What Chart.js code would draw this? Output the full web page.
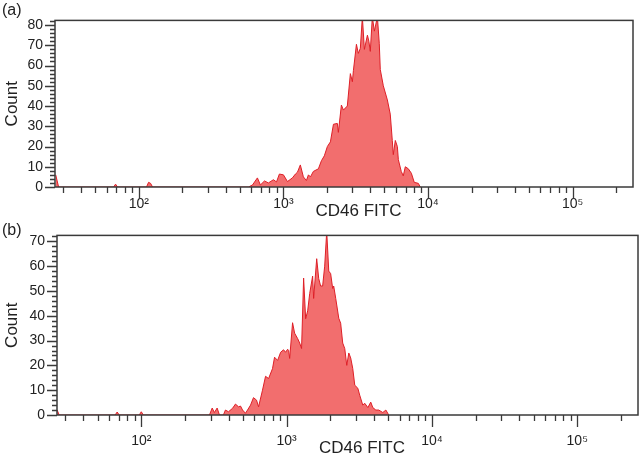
<!DOCTYPE html>
<html>
<head>
<meta charset="utf-8">
<script src="https://cdn.jsdelivr.net/npm/chart.js"></script>
<style>
  html, body { margin: 0; padding: 0; background: #fff; }
  body { width: 640px; height: 455px; position: relative; overflow: hidden; }
  .panel { position: absolute; left: 0; width: 640px; }
  #panelA { top: 0; height: 225px; }
  #panelB { top: 215px; height: 240px; }
</style>
</head>
<body>
<div class="panel" id="panelA"><canvas id="chartA"></canvas></div>
<div class="panel" id="panelB"><canvas id="chartB"></canvas></div>
<script>
// CD46 FITC histograms, x values are log10 of the fluorescence
// (a)
const logFitcA = [
  1.425, 1.435, 1.445,
  1.825, 1.839, 1.853,
  2.053, 2.067, 2.081, 2.095,
  2.758, 2.786, 2.820, 2.841, 2.869, 2.896, 2.931, 2.952, 2.972, 3.000,
  3.028, 3.062, 3.083, 3.097, 3.117, 3.138, 3.159, 3.173, 3.187, 3.207,
  3.242, 3.263, 3.283, 3.304, 3.325, 3.346, 3.373, 3.380, 3.401, 3.415,
  3.442, 3.463, 3.477, 3.484, 3.505, 3.518, 3.532, 3.546, 3.560, 3.581,
  3.591, 3.601, 3.615, 3.629, 3.650, 3.663, 3.670, 3.691, 3.719, 3.739,
  3.753, 3.760, 3.774, 3.788, 3.795, 3.815, 3.829, 3.843, 3.864, 3.885,
  3.905, 3.933, 3.947
];
const countA = [
  6, 3, 0,
  0, 1.4, 0,
  0, 2.3, 1.8, 0,
  0, 1, 4.5, 1, 3, 2, 3.6, 2.5, 6.4, 6,
  2.7, 4.5, 6.4, 7.3, 10.9, 5, 3.2, 6, 5, 7.7,
  9, 13, 15.4, 20, 22.3, 31, 31.4, 27, 40.5, 38,
  40, 56, 52, 57.5, 70.5, 66, 68.5, 84, 68, 75,
  72, 67, 84, 77, 84, 71, 58, 50, 43, 36,
  23, 16, 23, 20, 13.5, 7.7, 5.5, 10, 9, 6.8,
  2.3, 1.8, 0
];

// (b)
const logFitcB = [
  1.421, 1.435,
  1.820, 1.834, 1.848,
  1.986, 2.000, 2.014,
  2.469, 2.488, 2.503, 2.522, 2.538, 2.565, 2.579, 2.600, 2.628, 2.648,
  2.669, 2.683, 2.697, 2.717, 2.731, 2.752, 2.772, 2.793, 2.807, 2.834,
  2.855, 2.876, 2.903, 2.917, 2.938, 2.959, 2.979, 2.993, 3.007, 3.014,
  3.021, 3.041, 3.055, 3.076, 3.090, 3.103, 3.117, 3.131, 3.145, 3.159,
  3.179, 3.186, 3.207, 3.221, 3.234, 3.248, 3.262, 3.276, 3.290, 3.303,
  3.317, 3.324, 3.338, 3.359, 3.372, 3.386, 3.400, 3.414, 3.428, 3.441,
  3.455, 3.469, 3.490, 3.503, 3.524, 3.538, 3.559, 3.579, 3.593, 3.614,
  3.634, 3.662, 3.683, 3.703
];
const countB = [
  2, 0,
  0, 1.2, 0,
  0, 1.3, 0,
  0, 2.8, 1, 2.8, 0, 0, 2, 1.3, 2.7, 4.4,
  3.3, 3.6, 2, 0.7, 2, 4, 7, 6, 3.3, 10,
  15.6, 14.7, 18.7, 23.3, 22, 25.3, 26.3, 25.3, 26.5, 26,
  22.8, 37.2, 33, 30.8, 29, 26.8, 55.2, 38.8, 42, 49,
  56, 47, 63, 55, 52, 52, 60, 74, 58, 57,
  51, 52, 47, 39, 37, 29, 26.8, 20, 25, 23,
  18.8, 12, 10.8, 8, 4, 4.7, 3, 5.2, 3, 2,
  2, 1, 2, 0
];

// axis ticks
const decades = [2, 3, 4, 5];
const decadeLabels = ['10²', '10³', '10⁴', '10⁵'];
const countTicksA = [0, 10, 20, 30, 40, 50, 60, 70, 80];
const countTicksB = [0, 10, 20, 30, 40, 50, 60, 70];

const xTitle = 'CD46 FITC';
const yTitle = 'Count';

const fillColor = 'rgb(242, 110, 110)';
const lineColor = 'rgb(222, 32, 40)';
const axisColor = '#3a3a3a';
const textColor = '#222';
const fontFamily = '"Liberation Sans", Arial, sans-serif';

Chart.defaults.font.family = fontFamily;
Chart.defaults.color = textColor;

// frame, log minor ticks, x title and panel tag
const decorPlugin = {
  id: 'decor',
  afterDraw(chart, args, opts) {
    const ctx = chart.ctx;
    const area = chart.chartArea;
    const xs = chart.scales.x;
    const ys = chart.scales.y;
    ctx.save();
    ctx.strokeStyle = axisColor;
    ctx.lineWidth = 1.5;
    ctx.strokeRect(area.left, area.top, area.right - area.left, area.bottom - area.top);

    ctx.lineWidth = 1.3;
    ctx.beginPath();
    for (let v = 0; v <= ys.max; v += 2) {
      const py = Math.round(ys.getPixelForValue(v)) + 0.5;
      const len = v % 10 === 0 ? 10 : 5;
      ctx.moveTo(area.left - len, py);
      ctx.lineTo(area.left, py);
    }
    for (let d = 1; d <= 5; d++) {
      for (let m = 1; m <= 9; m++) {
        const v = Math.log10(m * Math.pow(10, d));
        if (v < xs.min || v > xs.max) continue;
        const px = Math.round(xs.getPixelForValue(v)) + 0.5;
        const len = m === 1 ? 12 : 6;
        ctx.moveTo(px, area.bottom);
        ctx.lineTo(px, area.bottom + len);
      }
    }
    ctx.stroke();

    ctx.fillStyle = textColor;
    ctx.font = '17px ' + fontFamily;
    ctx.textAlign = 'center';
    ctx.textBaseline = 'alphabetic';
    ctx.fillText(xTitle, area.left + (area.right - area.left) * 0.525, area.bottom + opts.titleGap);

    ctx.font = '16px ' + fontFamily;
    ctx.textAlign = 'left';
    ctx.fillText(opts.tag, 2, opts.tagY);
    ctx.restore();
  }
};

function makeChart(canvasId, xs, ys, yTicks, yMax, cfg) {
  const points = xs.map((x, i) => ({ x: x, y: ys[i] }));
  return new Chart(document.getElementById(canvasId), {
    type: 'line',
    data: {
      datasets: [{
        data: points,
        borderColor: lineColor,
        backgroundColor: fillColor,
        borderWidth: 1,
        pointRadius: 0,
        tension: 0,
        fill: 'origin'
      }]
    },
    options: {
      responsive: true,
      maintainAspectRatio: false,
      animation: false,
      events: [],
      layout: { padding: { left: 0, top: cfg.top, right: cfg.right, bottom: 0 } },
      plugins: {
        legend: { display: false },
        tooltip: { enabled: false },
        decor: { tag: cfg.tag, tagY: cfg.tagY, titleGap: cfg.titleGap }
      },
      scales: {
        x: {
          type: 'linear',
          min: 1.42,
          max: 5.418,
          grid: { display: false, drawTicks: false },
          border: { display: false },
          afterBuildTicks: (s) => { s.ticks = decades.map(v => ({ value: v })); },
          afterFit: (s) => { s.height = cfg.xHeight; },
          ticks: {
            padding: cfg.xPad,
            font: { size: 14 },
            maxRotation: 0,
            autoSkip: false,
            callback: (v) => decadeLabels[decades.indexOf(v)]
          }
        },
        y: {
          min: 0,
          max: yMax,
          grid: { display: false, drawTicks: false },
          border: { display: false },
          afterBuildTicks: (s) => { s.ticks = yTicks.map(v => ({ value: v })); },
          afterFit: (s) => { s.width = cfg.yWidth; },
          ticks: { padding: 12, font: { size: 14 } },
          title: {
            display: true,
            text: yTitle,
            font: { size: 17 },
            padding: { top: 2, bottom: 0 }
          }
        }
      }
    },
    plugins: [decorPlugin]
  });
}

makeChart('chartA', logFitcA, countA, countTicksA, 82.3,
  { tag: '(a)', tagY: 15, titleGap: 29, top: 6, right: 7, xHeight: 38, yWidth: 55, xPad: 9 });
makeChart('chartB', logFitcB, countB, countTicksB, 72.4,
  { tag: '(b)', tagY: 20, titleGap: 38, top: 19, right: 2, xHeight: 40, yWidth: 57, xPad: 18 });
</script>
</body>
</html>
